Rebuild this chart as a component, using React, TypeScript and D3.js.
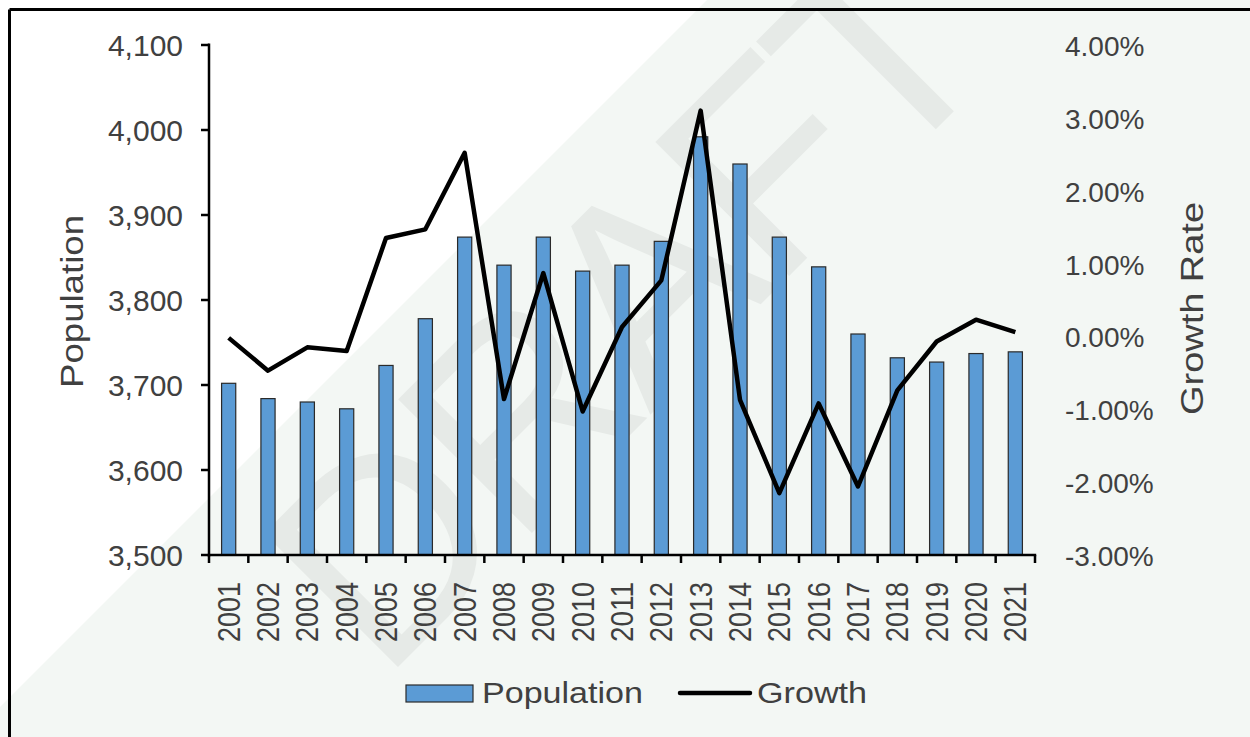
import React from "react";
import * as d3 from "d3";

const years = [
  "2001", "2002", "2003", "2004", "2005", "2006", "2007", "2008", "2009", "2010",
  "2011", "2012", "2013", "2014", "2015", "2016", "2017", "2018", "2019", "2020", "2021",
];
const population = [
  3702, 3684, 3680, 3672, 3723, 3778, 3874, 3841, 3874, 3834,
  3841, 3869, 3992, 3960, 3874, 3839, 3760, 3732, 3727, 3737, 3739,
];
const growth = [
  -0.02, -0.47, -0.15, -0.2, 1.35, 1.47, 2.52, -0.86, 0.87, -1.03,
  0.13, 0.77, 3.1, -0.87, -2.15, -0.92, -2.06, -0.74, -0.07, 0.23, 0.06,
];
const leftTicks = [3500, 3600, 3700, 3800, 3900, 4000, 4100];
const rightTicks = [-3, -2, -1, 0, 1, 2, 3, 4];

const FONT = "'Liberation Sans', Arial, sans-serif";
const TXT = "#404040";

export default function App() {
  const W = 1250;
  const H = 737;
  const left = 209;
  const right = 1035;
  const top = 45;
  const bottom = 555;

  const x = d3
    .scaleBand<string>()
    .domain(years)
    .range([left, right])
    .paddingInner(0.64)
    .paddingOuter(0.32);
  const yL = d3.scaleLinear().domain([3500, 4100]).range([bottom, top]);
  const yR = d3.scaleLinear().domain([-3, 4]).range([bottom, top]);
  const cx = (i: number) => (x(years[i]) as number) + x.bandwidth() / 2;

  const linePath = d3
    .line<number>()
    .x((_, i) => cx(i))
    .y((d) => yR(d))(growth) as string;

  const fmtL = d3.format(",");
  const boundaries = d3.range(years.length + 1).map((i) => left + i * x.step());

  return (
    <div style={{ position: "absolute", left: 0, top: 0, width: W, height: H }}>
      <svg width={W} height={H} style={{ display: "block" }}>
        <defs>
          <clipPath id="page">
            <rect x={0} y={0} width={W} height={H} />
          </clipPath>
        </defs>
        <rect x={0} y={0} width={W} height={H} fill="#ffffff" />
        <polygon points={`707,0 ${W},0 ${W},${H} 0,${H} 0,707`} fill="#f3f7f4" />
        <g clipPath="url(#page)">
          <text
            transform="translate(382,683) rotate(-45)"
            fontFamily={FONT}
            fontSize={275}
            fill="#e6eae7"
            textLength={880}
            lengthAdjust="spacing"
          >
            DRAFT
          </text>
        </g>
        {/* border */}
        <line x1={9.5} y1={9.5} x2={W} y2={9.5} stroke="#000" strokeWidth={3} />
        <line x1={9.5} y1={9.5} x2={9.5} y2={H} stroke="#000" strokeWidth={3} />

        {/* bars */}
        {population.map((v, i) => (
          <rect
            key={years[i]}
            x={x(years[i])}
            y={yL(v)}
            width={x.bandwidth()}
            height={bottom - yL(v)}
            fill="#5b9bd5"
            stroke="#2a2a2a"
            strokeWidth={1.2}
          />
        ))}

        {/* line */}
        <path d={linePath} fill="none" stroke="#000" strokeWidth={4.5} strokeLinejoin="round" />

        {/* left axis */}
        <line x1={left} y1={top - 1.5} x2={left} y2={bottom + 1.5} stroke="#000" strokeWidth={2.5} />
        {leftTicks.map((t) => (
          <g key={t}>
            <line x1={left - 8} x2={left} y1={yL(t)} y2={yL(t)} stroke="#000" strokeWidth={2.5} />
            <text
              x={183}
              y={yL(t) + 10.5}
              textAnchor="end"
              fontFamily={FONT}
              fontSize={30}
              fill={TXT}
            >
              {fmtL(t)}
            </text>
          </g>
        ))}

        {/* bottom axis */}
        <line x1={left - 1.2} x2={right + 1.2} y1={bottom} y2={bottom} stroke="#000" strokeWidth={2.5} />
        {boundaries.map((b, i) => (
          <line key={i} x1={b} x2={b} y1={bottom} y2={bottom + 8} stroke="#000" strokeWidth={2.5} />
        ))}
        {years.map((yr, i) => (
          <text
            key={yr}
            transform={`translate(${cx(i) + 11},582) rotate(-90)`}
            textAnchor="end"
            fontFamily={FONT}
            fontSize={31}
            fill={TXT}
            textLength={60}
            lengthAdjust="spacingAndGlyphs"
          >
            {yr}
          </text>
        ))}

        {/* right axis labels */}
        {rightTicks.map((t) => (
          <text
            key={t}
            x={1065}
            y={yR(t) + 11}
            fontFamily={FONT}
            fontSize={28}
            fill={TXT}
          >
            {t.toFixed(2) + "%"}
          </text>
        ))}

        {/* axis titles */}
        <text
          transform="translate(83,301.5) rotate(-90)"
          textAnchor="middle"
          fontFamily={FONT}
          fontSize={31}
          fill={TXT}
          textLength={173}
          lengthAdjust="spacingAndGlyphs"
        >
          Population
        </text>
        <text
          transform="translate(1203,308.5) rotate(-90)"
          textAnchor="middle"
          fontFamily={FONT}
          fontSize={31}
          fill={TXT}
          textLength={213}
          lengthAdjust="spacingAndGlyphs"
        >
          Growth Rate
        </text>

        {/* legend */}
        <rect x={406} y={685} width={67} height={17} fill="#5b9bd5" stroke="#2a2a2a" strokeWidth={1.2} />
        <text
          x={482}
          y={703}
          fontFamily={FONT}
          fontSize={30}
          fill={TXT}
          textLength={161}
          lengthAdjust="spacingAndGlyphs"
        >
          Population
        </text>
        <line x1={680} x2={750} y1={693} y2={693} stroke="#000" strokeWidth={4.5} strokeLinecap="round" />
        <text
          x={757}
          y={703}
          fontFamily={FONT}
          fontSize={30}
          fill={TXT}
          textLength={110}
          lengthAdjust="spacingAndGlyphs"
        >
          Growth
        </text>
      </svg>
    </div>
  );
}
